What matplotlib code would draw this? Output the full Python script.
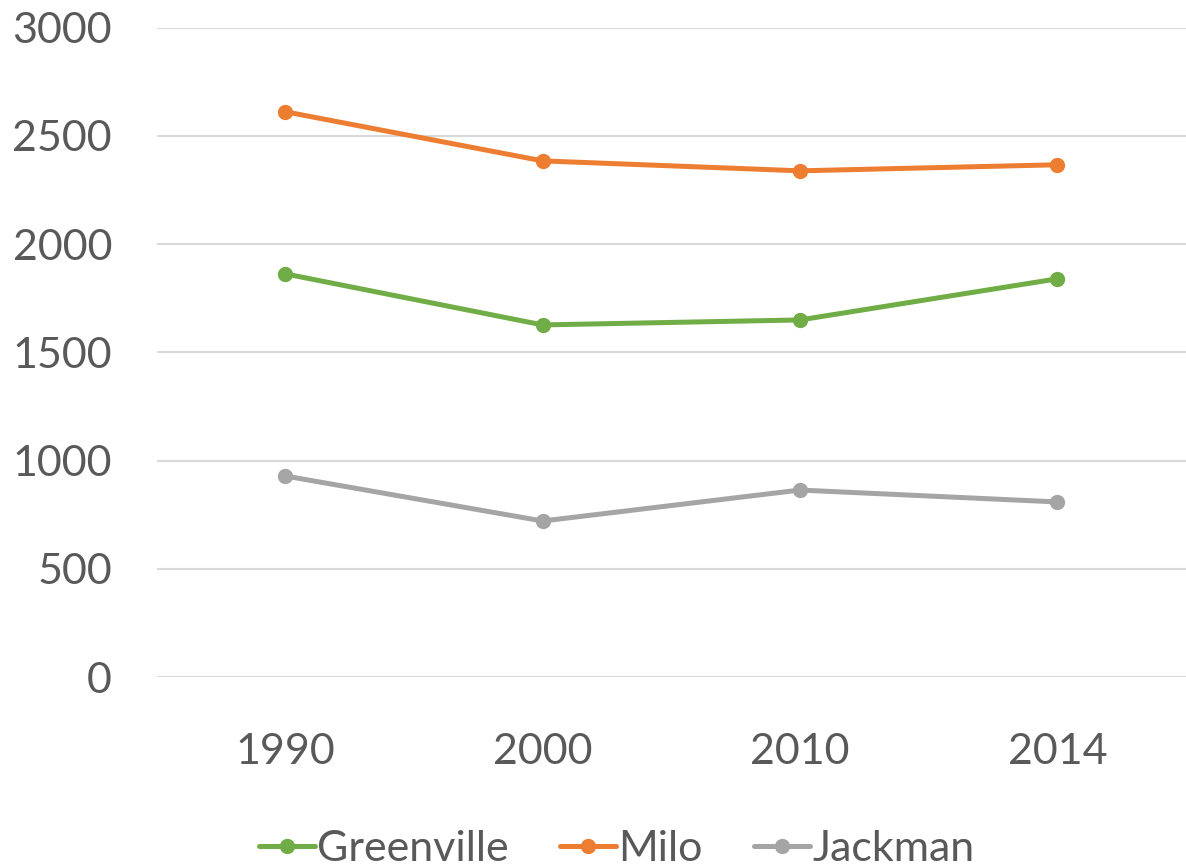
import matplotlib
matplotlib.use("Agg")
import matplotlib.pyplot as plt

years = ["1990", "2000", "2010", "2014"]
greenville = [1863, 1627, 1650, 1840]
milo = [2612, 2385, 2339, 2367]
jackman = [929, 721, 864, 809]

series = [
    ("Greenville", greenville, "#70AD47"),
    ("Milo", milo, "#ED7D31"),
    ("Jackman", jackman, "#A5A5A5"),
]

plt.rcParams["font.family"] = ["Lato", "DejaVu Sans"]

fig = plt.figure(figsize=(11.86, 8.68), dpi=100)
ax = fig.add_axes([0.132, 0.22, 0.868, 0.748])

x = range(len(years))
for name, vals, color in series:
    ax.plot(x, vals, color=color, linewidth=3.6, marker="o", markersize=10,
            label=name, solid_capstyle="round")

ax.set_xlim(-0.5, len(years) - 0.5)
ax.set_ylim(0, 3000)
ax.set_yticks(range(0, 3001, 500))
ax.set_xticks(list(x))
ax.set_xticklabels(years)
ax.grid(axis="y", color="#D9D9D9", linewidth=1.5)
ax.set_axisbelow(True)
for s in ax.spines.values():
    s.set_visible(False)
ax.tick_params(axis="both", length=0, labelsize=31, labelcolor="#595959")
ax.tick_params(axis="y", pad=32)
ax.tick_params(axis="x", pad=40)

fig.legend(loc="center", bbox_to_anchor=(0.52, 0.022), ncol=3, frameon=False,
           fontsize=31, labelcolor="#595959", handlelength=1.3, handletextpad=0.05,
           columnspacing=1.2)

fig.savefig("out.png", dpi=100)
